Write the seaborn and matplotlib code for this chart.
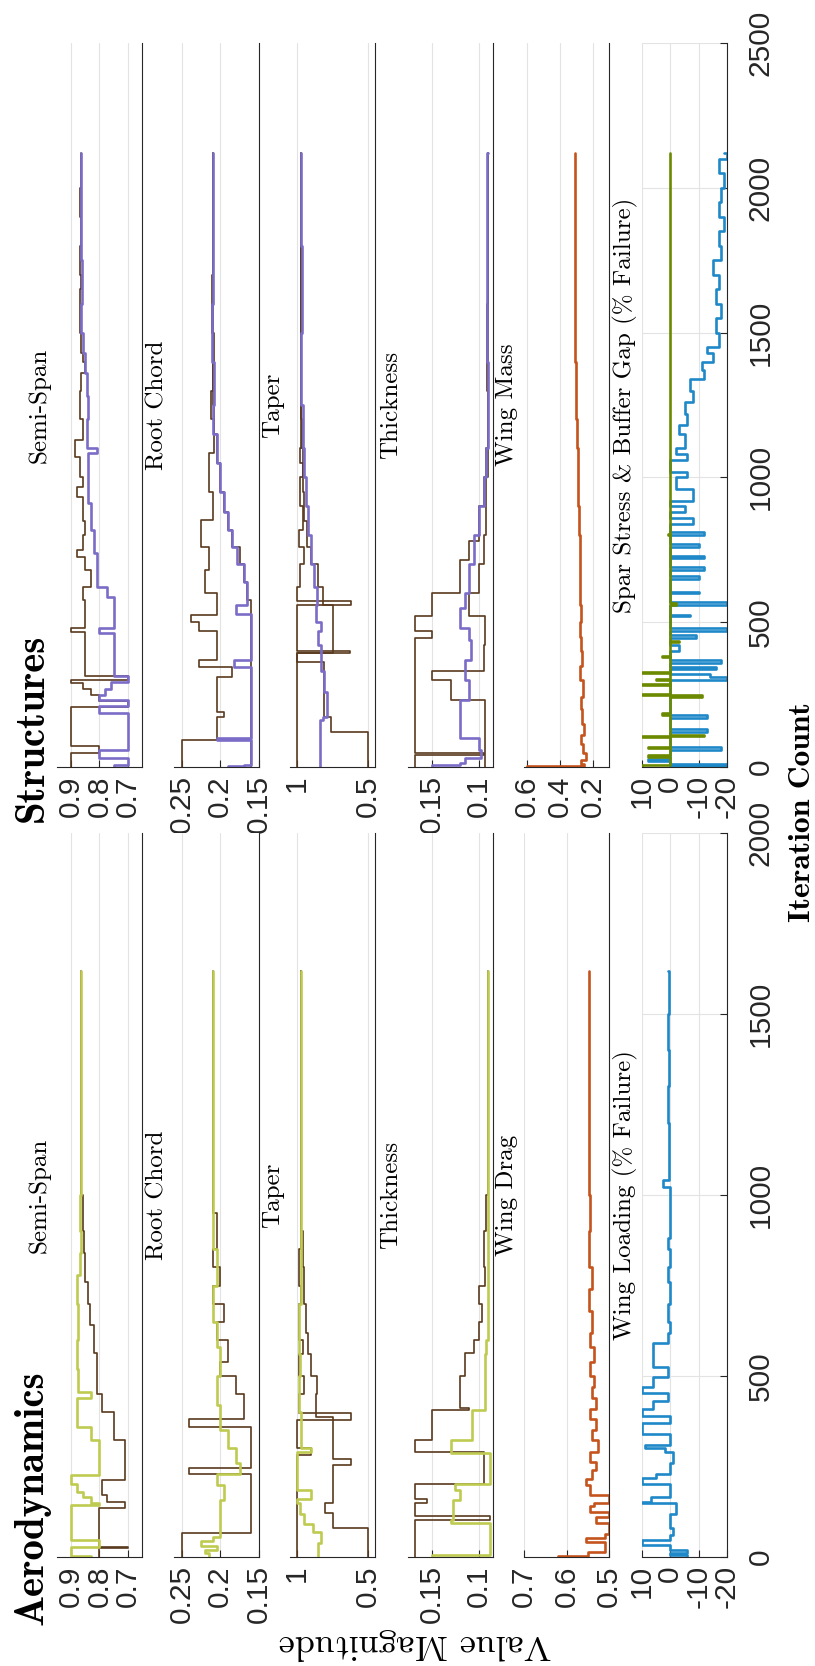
import matplotlib
matplotlib.use("Agg")
import matplotlib.pyplot as plt
import seaborn as sns

sns.set_style("white")
plt.rcParams["font.family"] = ["Liberation Sans", "DejaVu Sans"]
plt.rcParams["axes.unicode_minus"] = False

# ---------------- data : Structures (iterations 0..2120) ----------------
S_SPAN_BR_IT = [0, 50, 72, 208, 228, 250, 270, 290, 300, 314, 467, 479, 577, 620, 680, 726, 750, 800, 850, 933, 968, 1000, 1070, 1130, 1200, 1300, 1360, 1400, 1430, 1500, 1650, 1700, 1800, 1900, 2000, 2120]
S_SPAN_BR_V = [0.90, 0.80, 0.90, 0.70, 0.80, 0.83, 0.86, 0.90, 0.70, 0.85, 0.90, 0.85, 0.86, 0.83, 0.85, 0.88, 0.86, 0.85, 0.86, 0.88, 0.86, 0.87, 0.885, 0.86, 0.87, 0.865, 0.85, 0.86, 0.865, 0.87, 0.865, 0.87, 0.865, 0.868, 0.865, 0.865]
S_SPAN_PU_IT = [0, 8, 30, 58, 185, 210, 231, 250, 270, 295, 314, 461, 479, 588, 623, 738, 818, 910, 1083, 1100, 1200, 1280, 1360, 1430, 1500, 1600, 1750, 1900, 2120]
S_SPAN_PU_V = [0.75, 0.70, 0.80, 0.70, 0.80, 0.70, 0.80, 0.78, 0.76, 0.70, 0.75, 0.80, 0.75, 0.775, 0.81, 0.82, 0.83, 0.84, 0.81, 0.845, 0.84, 0.845, 0.85, 0.86, 0.865, 0.862, 0.866, 0.864, 0.865]

S_CHORD_BRA_IT = [0, 94, 173, 190, 312, 346, 370, 470, 500, 525, 600, 680, 760, 853, 950, 1083, 1200, 1300, 1400, 1500, 1700, 1900, 2120]
S_CHORD_BRA_V = [0.25, 0.205, 0.195, 0.205, 0.185, 0.228, 0.205, 0.228, 0.238, 0.205, 0.22, 0.215, 0.225, 0.21, 0.215, 0.208, 0.212, 0.21, 0.208, 0.211, 0.209, 0.21, 0.21]
S_CHORD_BRB_IT = [0, 94, 577, 640, 700, 760, 820, 880, 950, 1050, 1150, 1250, 2120]
S_CHORD_BRB_V = [0.161, 0.161, 0.165, 0.17, 0.175, 0.185, 0.19, 0.195, 0.2, 0.205, 0.208, 0.21, 0.21]
S_CHORD_PU_IT = [0, 3, 8, 94, 100, 346, 370, 530, 560, 640, 700, 760, 820, 880, 950, 1050, 1150, 1250, 1400, 1600, 1800, 2120]
S_CHORD_PU_V = [0.19, 0.17, 0.161, 0.205, 0.161, 0.182, 0.161, 0.18, 0.165, 0.17, 0.178, 0.185, 0.19, 0.195, 0.2, 0.205, 0.21, 0.208, 0.211, 0.209, 0.21, 0.21]

S_TAPER_BRA_IT = [0, 393, 402, 560, 572, 620, 700, 760, 820, 900, 1000, 1050, 1100, 1200, 1400, 1600, 2120]
S_TAPER_BRA_V = [1.0, 0.63, 1.0, 0.62, 1.0, 0.98, 0.95, 0.99, 0.96, 0.98, 0.96, 0.98, 0.965, 0.975, 0.97, 0.972, 0.97]
S_TAPER_BRB_IT = [0, 122, 174, 364, 395, 560, 620, 700, 760, 850, 950, 1100, 2120]
S_TAPER_BRB_V = [0.5, 0.76, 0.81, 1.0, 0.75, 0.82, 0.85, 0.9, 0.93, 0.95, 0.96, 0.97, 0.97]
S_TAPER_PU_IT = [0, 162, 174, 260, 330, 420, 470, 500, 560, 620, 700, 800, 900, 1000, 1100, 1250, 1500, 1800, 2120]
S_TAPER_PU_V = [0.84, 0.82, 0.79, 0.81, 0.83, 0.85, 0.83, 0.87, 0.86, 0.88, 0.9, 0.92, 0.94, 0.95, 0.96, 0.97, 0.968, 0.971, 0.97]

S_THICK_BRA_IT = [0, 15, 40, 47, 445, 470, 520, 600, 715, 780, 900, 1000, 1100, 1300, 1600, 2120]
S_THICK_BRA_V = [0.168, 0.168, 0.095, 0.168, 0.15, 0.168, 0.15, 0.12, 0.11, 0.10, 0.095, 0.092, 0.09, 0.091, 0.09, 0.09]
S_THICK_BRB_IT = [0, 190, 230, 300, 330, 420, 520, 600, 700, 800, 1000, 2120]
S_THICK_BRB_V = [0.093, 0.093, 0.13, 0.15, 0.095, 0.093, 0.11, 0.1, 0.095, 0.092, 0.09, 0.09]
S_THICK_PU_IT = [0, 8, 15, 30, 60, 100, 190, 230, 300, 370, 440, 480, 550, 600, 700, 800, 900, 1000, 1100, 1400, 2120]
S_THICK_PU_V = [0.15, 0.12, 0.115, 0.098, 0.1, 0.12, 0.12, 0.11, 0.115, 0.108, 0.11, 0.12, 0.115, 0.11, 0.105, 0.1, 0.095, 0.092, 0.09, 0.091, 0.09]

S_MASS_IT = [0, 4, 12, 25, 50, 80, 110, 150, 200, 240, 300, 350, 400, 450, 500, 560, 600, 700, 800, 900, 1000, 1100, 1200, 1300, 1400, 1500, 1600, 1800, 2000, 2120]
S_MASS_V = [0.60, 0.25, 0.27, 0.24, 0.26, 0.27, 0.255, 0.265, 0.27, 0.26, 0.275, 0.265, 0.27, 0.275, 0.27, 0.28, 0.275, 0.28, 0.285, 0.29, 0.29, 0.295, 0.30, 0.30, 0.305, 0.305, 0.31, 0.31, 0.31, 0.31]

S_STRESS_IT = [0, 5, 12, 20, 28, 60, 70, 120, 130, 170, 180, 300, 310, 320, 340, 345, 360, 370, 400, 420, 445, 455, 470, 480, 520, 525, 560, 570, 600, 605, 650, 660, 680, 690, 720, 730, 760, 770, 800, 810, 840, 860, 880, 900, 920, 960, 1000, 1020, 1060, 1080, 1100, 1150, 1180, 1220, 1260, 1300, 1340, 1370, 1400, 1430, 1450, 1500, 1550, 1600, 1650, 1700, 1750, 1800, 1850, 1900, 1950, 2000, 2050, 2100, 2120]
S_STRESS_V = [0, -20, 0, 8, 0, -18, 0, -13, 0, -13, 0, -20, -14, 0, -16, 0, -18, 0, -3, 0, -9, 0, -20, 0, -7, 0, -20, 0, -10, 0, -10, 0, -12, 0, -12, 0, -10, 0, -12, 0, -8, 0, -5, 0, -8, -2, -6, 0, -6, -2, -5, -3, -6, -5, -8, -7, -12, -11, -15, -13, -17, -16, -18, -16, -17, -15, -18, -17, -19, -17, -18, -19, -17, -20, -19]
S_BUFFER_IT = [0, 7, 36, 40, 65, 70, 105, 108, 112, 180, 185, 243, 247, 252, 283, 288, 300, 305, 323, 328, 380, 385, 430, 435, 560, 565, 800, 805, 2120]
S_BUFFER_V = [10, 0, 8, 0, 8, 0, 10, -12, 0, 3, 0, -11, 10, 0, 10, 0, 5, 0, 10, 0, 3, 0, -3, 0, -2, 0, 1, 0, 0]

# ---------------- data : Aerodynamics (iterations 0..1620) ----------------
A_SPAN_BR_IT = [0, 24, 28, 134, 153, 170, 212, 323, 401, 450, 563, 640, 700, 760, 840, 900, 1000, 1620]
A_SPAN_BR_V = [0.80, 0.70, 0.80, 0.71, 0.775, 0.79, 0.71, 0.75, 0.79, 0.81, 0.82, 0.835, 0.84, 0.85, 0.855, 0.86, 0.865, 0.865]
A_SPAN_GR_IT = [0, 3, 28, 47, 143, 150, 165, 180, 203, 226, 323, 360, 440, 455, 520, 600, 700, 780, 840, 900, 1000, 1620]
A_SPAN_GR_V = [0.83, 0.90, 0.80, 0.90, 0.80, 0.83, 0.86, 0.88, 0.90, 0.80, 0.83, 0.88, 0.83, 0.875, 0.88, 0.875, 0.88, 0.87, 0.865, 0.87, 0.865, 0.865]

A_CHORD_BR_IT = [0, 65, 230, 245, 360, 380, 450, 500, 540, 600, 650, 700, 750, 800, 850, 950, 1620]
A_CHORD_BR_V = [0.25, 0.161, 0.24, 0.161, 0.24, 0.17, 0.18, 0.20, 0.19, 0.205, 0.195, 0.21, 0.20, 0.21, 0.205, 0.21, 0.21]
A_CHORD_GR_IT = [0, 10, 20, 30, 45, 56, 157, 200, 230, 260, 300, 350, 420, 500, 580, 650, 750, 850, 1000, 1620]
A_CHORD_GR_V = [0.215, 0.22, 0.205, 0.225, 0.21, 0.20, 0.195, 0.205, 0.175, 0.18, 0.19, 0.20, 0.205, 0.20, 0.205, 0.21, 0.205, 0.21, 0.21, 0.21]

A_TAPER_BRA_IT = [0, 282, 300, 378, 397, 450, 500, 560, 600, 700, 750, 850, 1000, 1620]
A_TAPER_BRA_V = [1.0, 0.90, 1.0, 0.62, 0.99, 0.95, 0.99, 0.96, 0.99, 0.97, 0.99, 0.975, 0.97, 0.97]
A_TAPER_BRB_IT = [0, 79, 121, 150, 254, 272, 388, 450, 500, 560, 620, 700, 800, 900, 1620]
A_TAPER_BRB_V = [0.5, 0.75, 0.80, 0.75, 0.62, 0.75, 0.87, 0.86, 0.90, 0.92, 0.94, 0.95, 0.96, 0.97, 0.97]
A_TAPER_GR_IT = [0, 38, 70, 90, 120, 150, 160, 185, 290, 300, 400, 500, 560, 700, 900, 1620]
A_TAPER_GR_V = [0.855, 0.83, 0.89, 0.95, 0.98, 1.0, 0.90, 1.0, 0.90, 0.97, 0.99, 0.98, 0.99, 0.975, 0.97, 0.97]

A_THICK_BR_IT = [0, 102, 112, 150, 160, 203, 290, 323, 406, 412, 500, 563, 600, 650, 700, 750, 800, 900, 1000, 1620]
A_THICK_BR_V = [0.168, 0.088, 0.168, 0.155, 0.168, 0.095, 0.168, 0.15, 0.11, 0.12, 0.115, 0.105, 0.10, 0.097, 0.10, 0.093, 0.095, 0.092, 0.09, 0.09]
A_THICK_GR_IT = [0, 5, 93, 103, 157, 185, 203, 286, 323, 406, 560, 600, 1620]
A_THICK_GR_V = [0.15, 0.088, 0.13, 0.127, 0.12, 0.125, 0.088, 0.13, 0.107, 0.093, 0.092, 0.09, 0.09]

A_DRAG_IT = [0, 3, 14, 42, 52, 64, 93, 110, 125, 140, 150, 170, 200, 215, 240, 262, 290, 323, 350, 380, 410, 440, 470, 500, 540, 580, 620, 680, 740, 800, 900, 1000, 1100, 1200, 1400, 1620]
A_DRAG_V = [0.62, 0.55, 0.51, 0.555, 0.51, 0.50, 0.53, 0.50, 0.545, 0.535, 0.50, 0.545, 0.555, 0.54, 0.53, 0.545, 0.525, 0.54, 0.53, 0.545, 0.53, 0.54, 0.535, 0.545, 0.535, 0.545, 0.54, 0.548, 0.54, 0.547, 0.545, 0.548, 0.546, 0.548, 0.547, 0.547]

A_LOAD_IT = [0, 5, 10, 18, 33, 46, 60, 80, 120, 148, 152, 165, 203, 217, 230, 260, 290, 300, 310, 340, 370, 390, 410, 430, 452, 470, 498, 525, 590, 620, 650, 700, 760, 800, 850, 880, 1023, 1042, 1100, 1200, 1300, 1400, 1500, 1620]
A_LOAD_V = [-6, 0, -6, 0, 10, 0, -1, 0, -2, 10, 7, 0, 10, 5, 0, -1, 2, 9, 0, 10, 0, 10, 6, 1, 10, 6, 1, 6, 1, 0, 1, 0, 1, 0, 1, 0, 2.5, 0.5, 0.5, 1, 0.5, 1, 0.5, 1]

# ---------------- panel settings ----------------
TITLES_S = ["Semi-Span", "Root Chord", "Taper", "Thickness", "Wing Mass", "Spar Stress & Buffer Gap (% Failure)"]
TITLES_A = ["Semi-Span", "Root Chord", "Taper", "Thickness", "Wing Drag", "Wing Loading (% Failure)"]
XLIMS_S = [(0.95, 0.65), (0.26, 0.15), (1.05, 0.45), (0.175, 0.085), (0.62, 0.10), (10, -20)]
XLIMS_A = [(0.95, 0.65), (0.26, 0.15), (1.05, 0.45), (0.175, 0.085), (0.70, 0.50), (10, -20)]
TICKS_S = [[0.9, 0.8, 0.7], [0.25, 0.2, 0.15], [1, 0.5], [0.15, 0.1], [0.6, 0.4, 0.2], [10, 0, -10, -20]]
TICKS_A = [[0.9, 0.8, 0.7], [0.25, 0.2, 0.15], [1, 0.5], [0.15, 0.1], [0.7, 0.6, 0.5], [10, 0, -10, -20]]
LABELS_S = [["0.9", "0.8", "0.7"], ["0.25", "0.2", "0.15"], ["1", "0.5"], ["0.15", "0.1"], ["0.6", "0.4", "0.2"], ["10", "0", "-10", "-20"]]
LABELS_A = [["0.9", "0.8", "0.7"], ["0.25", "0.2", "0.15"], ["1", "0.5"], ["0.15", "0.1"], ["0.7", "0.6", "0.5"], ["10", "0", "-10", "-20"]]
ITER_TICKS_S = [0, 500, 1000, 1500, 2000, 2500]
ITER_TICKS_A = [0, 500, 1000, 1500, 2000]

BROWN = "#5A3A1E"
PURPLE = "#7B6CC8"
LIME = "#BFCB50"
ORANGE = "#C4531C"
BLUE = "#1E88C8"
OLIVE = "#6B8A00"
DARK = "#262626"
GRID = "#E3E3E3"

W, H = 815, 1666
fig = plt.figure(figsize=(W / 100, H / 100), dpi=100)
LEFTS = [57, 174, 290, 408, 524, 642]
AXW = 85
ROWS = {"S": (43, 767), "A": (833, 1557)}

CM = ["cmr10", "DejaVu Serif"]
CMB = ["cmb10", "DejaVu Serif"]


def step(ax, its, vals, color, lw):
    sns.lineplot(x=vals, y=its, orient="y", sort=False, estimator=None,
                 drawstyle="steps-pre", color=color, linewidth=lw, ax=ax,
                 legend=False)


axes = {}
for row in ("S", "A"):
    top, bot = ROWS[row]
    for col in range(6):
        axes[(row, col)] = fig.add_axes([LEFTS[col] / W, 1 - bot / H, AXW / W, (bot - top) / H])

a = axes
step(a[("S", 0)], S_SPAN_BR_IT, S_SPAN_BR_V, BROWN, 1.2)
step(a[("S", 0)], S_SPAN_PU_IT, S_SPAN_PU_V, PURPLE, 1.9)
step(a[("S", 1)], S_CHORD_BRA_IT, S_CHORD_BRA_V, BROWN, 1.2)
step(a[("S", 1)], S_CHORD_BRB_IT, S_CHORD_BRB_V, BROWN, 1.2)
step(a[("S", 1)], S_CHORD_PU_IT, S_CHORD_PU_V, PURPLE, 1.9)
step(a[("S", 2)], S_TAPER_BRA_IT, S_TAPER_BRA_V, BROWN, 1.2)
step(a[("S", 2)], S_TAPER_BRB_IT, S_TAPER_BRB_V, BROWN, 1.2)
step(a[("S", 2)], S_TAPER_PU_IT, S_TAPER_PU_V, PURPLE, 1.9)
step(a[("S", 3)], S_THICK_BRA_IT, S_THICK_BRA_V, BROWN, 1.2)
step(a[("S", 3)], S_THICK_BRB_IT, S_THICK_BRB_V, BROWN, 1.2)
step(a[("S", 3)], S_THICK_PU_IT, S_THICK_PU_V, PURPLE, 1.9)
step(a[("S", 4)], S_MASS_IT, S_MASS_V, ORANGE, 1.9)
step(a[("S", 5)], S_STRESS_IT, S_STRESS_V, BLUE, 1.9)
step(a[("S", 5)], S_BUFFER_IT, S_BUFFER_V, OLIVE, 1.9)

step(a[("A", 0)], A_SPAN_BR_IT, A_SPAN_BR_V, BROWN, 1.2)
step(a[("A", 0)], A_SPAN_GR_IT, A_SPAN_GR_V, LIME, 1.9)
step(a[("A", 1)], A_CHORD_BR_IT, A_CHORD_BR_V, BROWN, 1.2)
step(a[("A", 1)], A_CHORD_GR_IT, A_CHORD_GR_V, LIME, 1.9)
step(a[("A", 2)], A_TAPER_BRA_IT, A_TAPER_BRA_V, BROWN, 1.2)
step(a[("A", 2)], A_TAPER_BRB_IT, A_TAPER_BRB_V, BROWN, 1.2)
step(a[("A", 2)], A_TAPER_GR_IT, A_TAPER_GR_V, LIME, 1.9)
step(a[("A", 3)], A_THICK_BR_IT, A_THICK_BR_V, BROWN, 1.2)
step(a[("A", 3)], A_THICK_GR_IT, A_THICK_GR_V, LIME, 1.9)
step(a[("A", 4)], A_DRAG_IT, A_DRAG_V, ORANGE, 1.9)
step(a[("A", 5)], A_LOAD_IT, A_LOAD_V, BLUE, 1.9)

# style axes and titles
for row, titles, xlims, ticks, labels, iticks in [
        ("S", TITLES_S, XLIMS_S, TICKS_S, LABELS_S, ITER_TICKS_S),
        ("A", TITLES_A, XLIMS_A, TICKS_A, LABELS_A, ITER_TICKS_A)]:
    top, bot = ROWS[row]
    for col in range(6):
        ax = axes[(row, col)]
        ax.set_xlim(*xlims[col])
        ax.set_ylim(iticks[0], iticks[-1])
        ax.set_xlabel("")
        ax.set_ylabel("")
        ax.set_xticks(ticks[col])
        ax.set_xticklabels(labels[col], rotation=90, fontsize=21.5, color=DARK,
                           family=["Liberation Sans", "DejaVu Sans"])
        ax.tick_params(axis="x", direction="in", length=5, width=0.8,
                       color=DARK, pad=6, bottom=True)
        ax.grid(True, axis="x", color=GRID, linewidth=0.8)
        ax.set_axisbelow(True)
        for s in ("top", "left"):
            ax.spines[s].set_visible(False)
        for s in ("bottom", "right"):
            ax.spines[s].set_color(DARK)
            ax.spines[s].set_linewidth(0.8)
        if col == 5:
            ax.yaxis.tick_right()
            ax.set_yticks(iticks)
            ax.set_yticklabels([str(t) for t in iticks], rotation=90, va="center",
                               fontsize=21.5, color=DARK,
                               family=["Liberation Sans", "DejaVu Sans"])
            ax.tick_params(axis="y", direction="in", length=5, width=0.8,
                           color=DARK, pad=14, right=True)
            ax.grid(True, axis="y", color=GRID, linewidth=0.8)
        else:
            ax.set_yticks([])
        fig.text((LEFTS[col] - 11) / W, 1 - ((top + bot) / 2) / H, titles[col],
                 rotation=90, rotation_mode="anchor", ha="center", va="baseline",
                 fontsize=18, family=CM, color="black")

fig.text(43 / W, 1 - 822 / H, "Structures", rotation=90, rotation_mode="anchor",
         ha="left", va="baseline", fontsize=29.5, family=CMB, color="black")
fig.text(43 / W, 1 - 1625 / H, "Aerodynamics", rotation=90, rotation_mode="anchor",
         ha="left", va="baseline", fontsize=29.5, family=CMB, color="black")
fig.text(415 / W, 1 - 1635 / H, "Value Magnitude", rotation=180, rotation_mode="anchor",
         ha="center", va="baseline", fontsize=26, family=CM, color="black")
fig.text(810 / W, 1 - 812 / H, "Iteration Count", rotation=90, rotation_mode="anchor",
         ha="center", va="baseline", fontsize=22.8, family=CMB, color="black")

fig.savefig("out.png", dpi=100, facecolor="white")
